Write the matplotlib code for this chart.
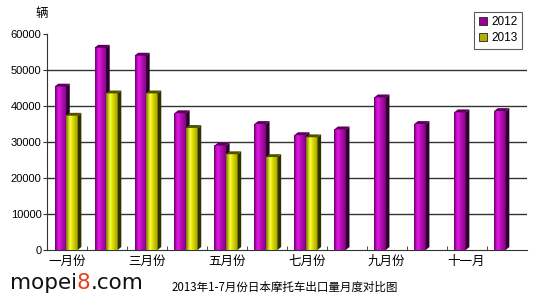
import matplotlib
matplotlib.use('Agg')
import matplotlib.pyplot as plt
from matplotlib.patches import Patch
from matplotlib.colors import to_rgb
import numpy as np

plt.rcParams['font.family'] = ['Liberation Sans', 'Noto Sans CJK SC', 'DejaVu Sans']

# monthly motorcycle exports (units)
months = ['一月份', '二月份', '三月份', '四月份', '五月份', '六月份',
          '七月份', '八月份', '九月份', '十月份', '十一月', '十二月']
exports_2012 = [45400, 56200, 54000, 38000, 29000, 35000,
                31900, 33500, 42400, 35000, 38250, 38600]
exports_2013 = [37300, 43500, 43500, 33900, 26600, 25800, 31300]
yticks = [0, 10000, 20000, 30000, 40000, 50000, 60000]


def gradient(stops, n=40):
    pos = [s[0] for s in stops]
    cols = np.array([to_rgb(s[1]) for s in stops])
    t = np.linspace(0, 1, n)
    img = np.stack([np.interp(t, pos, cols[:, k]) for k in range(3)], axis=-1)
    return img[np.newaxis, :, :]


purple = dict(grad=gradient([(0, '#6a006a'), (0.3, '#e818e8'), (0.55, '#b810b8'), (1, '#880088')]),
              side='#2a002a', top='#5a005a')
yellow = dict(grad=gradient([(0, '#7a7a00'), (0.35, '#ffff40'), (0.6, '#d8d800'), (1, '#a0a000')]),
              side='#303000', top='#505000')

fig = plt.figure(figsize=(5.37, 3.04), dpi=100)
ax = fig.add_axes([0.0875, 0.178, 0.893, 0.71])

width = 0.29
dx, dy = 0.09, 800


def bar3d(x0, h, style):
    x1 = x0 + width
    ax.imshow(style['grad'], extent=(x0, x1, 0, h), aspect='auto',
              interpolation='bilinear', zorder=3)
    ax.fill([x1, x1 + dx, x1 + dx, x1], [0, dy, h + dy, h],
            color=style['side'], lw=0, zorder=3)
    ax.fill([x0, x0 + dx, x1 + dx, x1], [h, h + dy, h + dy, h],
            color=style['top'], lw=0, zorder=3)


for i, v in enumerate(exports_2012):
    bar3d(i - 0.31, v, purple)
    if i < len(exports_2013):
        bar3d(i - 0.02, exports_2013[i], yellow)

ax.set_xlim(-0.5, 11.5)
ax.set_ylim(0, 60000)
ax.set_yticks(yticks)
ax.set_yticklabels([str(t) for t in yticks], fontsize=8)
for y in yticks[1:-1]:
    ax.axhline(y, color='#333333', lw=1, zorder=1)

ax.set_xticks(range(0, 12, 2))
ax.set_xticklabels(months[::2], fontsize=9)
ax.tick_params(axis='x', length=0, pad=4)
ax.set_xticks(np.arange(0.5, 11.5, 1), minor=True)
ax.tick_params(axis='x', which='minor', direction='in', length=3, color='#333333')
ax.tick_params(axis='y', length=3, color='#333333', pad=1)

for s in ['top', 'right']:
    ax.spines[s].set_visible(False)
for s in ['left', 'bottom']:
    ax.spines[s].set_color('#333333')

handles = [Patch(facecolor='#990099', edgecolor='#222222', lw=0.6, label='2012'),
           Patch(facecolor='#b0b000', edgecolor='#222222', lw=0.6, label='2013')]
leg = fig.legend(handles=handles, loc='upper right', bbox_to_anchor=(0.972, 0.962),
                 fontsize=8.5, frameon=True, fancybox=False, handlelength=0.7,
                 handleheight=0.7, handletextpad=0.3, borderpad=0.4,
                 labelspacing=0.35, borderaxespad=0)
leg.get_frame().set_edgecolor('#333333')
leg.get_frame().set_linewidth(0.8)

fig.text(0.077, 0.955, '辆', fontsize=9, ha='center', va='center')
fig.text(0.53, 0.054, '2013年1-7月份日本摩托车出口量月度对比图', fontsize=8.3,
         ha='center', va='center', family=['Noto Sans CJK SC'])

wm_y = 0.07
wm_size = 15.5
t1 = fig.text(0.018, wm_y, 'mopei', fontsize=wm_size, ha='left', va='center',
              family=['DejaVu Sans'], color='#111111')
fig.canvas.draw()
bb = t1.get_window_extent().transformed(fig.transFigure.inverted())
t2 = fig.text(bb.x1, wm_y, '8', fontsize=wm_size, ha='left', va='center',
              family=['DejaVu Sans'], color='#e8401c')
fig.canvas.draw()
bb2 = t2.get_window_extent().transformed(fig.transFigure.inverted())
fig.text(bb2.x1, wm_y, '.com', fontsize=wm_size, ha='left', va='center',
         family=['DejaVu Sans'], color='#111111')

fig.savefig('out.png', dpi=100)
